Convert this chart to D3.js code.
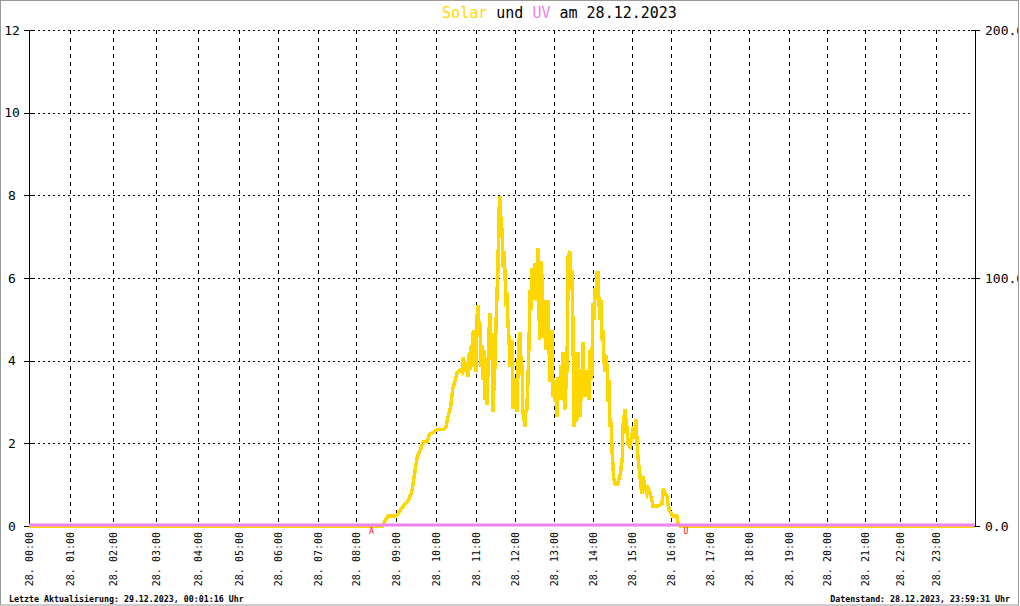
<!DOCTYPE html>
<html><head><meta charset="utf-8">
<script src="https://cdn.jsdelivr.net/npm/d3@7"></script>
<style>
html,body{margin:0;padding:0;background:#fff;}
svg{display:block;}
text{font-family:"DejaVu Sans Mono",monospace;}
</style></head>
<body>
<script>
// ---------- data ----------
const titleParts = [["Solar","#FFD700"],[" und ","#000"],["UV","#EE82EE"],[" am 28.12.2023","#000"]];
const hourLabels = ["28. 00:00","28. 01:00","28. 02:00","28. 03:00","28. 04:00","28. 05:00","28. 06:00","28. 07:00","28. 08:00","28. 09:00","28. 10:00","28. 11:00","28. 12:00","28. 13:00","28. 14:00","28. 15:00","28. 16:00","28. 17:00","28. 18:00","28. 19:00","28. 20:00","28. 21:00","28. 22:00","28. 23:00"];
const leftTicks = [0,2,4,6,8,10,12];
const rightTicks = [0,100,200];
// solar radiation (W/m²) : [minute of day, value]
const solarSeries = [
 [0,0],[520,0],[521,1],[528,4],[539,4],[543,5],[551,8],[558,10],[564,14],[566,18],[569,23],[572,28],[577,31],[581,34],[587,34],[590,37],[597,38],[603,39],[611,39],[615,40],[618,44],[622,48],[625,55],
 [629,59],[632,62],[636,63],[639,62],[641,68],[644,62],[647,66],[648,60],[650,70],[651,63],[653,73],[654,67],[656,79],[657,64],[659,72],[660,62],
 [662,86],[663,89],[665,79],[666,82],[668,64],[669,73],[671,59],[672,71],[674,51],[675,62],[677,49],[678,59],[680,79],[682,86],[683,67],[685,78],[686,46],[688,59],[689,64],[691,83],[692,91],[694,106],[695,126],[697,133],[698,125],[700,119],[702,104],[703,111],[705,99],[706,91],[708,92],[709,82],[711,75],[712,64],[714,73],[715,75],[717,47],[718,59],[720,59],
 [722,51],[723,46],[725,67],[726,75],[728,78],[729,67],[731,64],[732,46],[734,43],[735,40],[737,47],[738,46],[740,59],[742,79],[743,95],[745,87],[746,104],[748,91],[749,103],[751,106],[752,91],[754,92],[755,112],[757,86],[758,75],[760,107],[762,98],[763,76],[765,87],[766,91],[768,71],[769,87],[771,91],[772,75],[774,58],[775,71],[777,79],[778,52],[780,59],
 [782,50],[783,55],[785,44],[786,60],[788,51],[789,55],[791,65],[792,51],[794,70],[795,53],[797,47],[798,55],[800,63],[802,110],[803,107],[805,111],[806,95],[808,103],[809,82],[811,40],[812,70],[814,51],[815,42],[817,70],[818,51],[820,44],[822,55],[823,60],[825,74],[826,55],[828,52],[829,63],[831,55],[832,63],[834,51],[835,71],[837,67],[838,59],[840,90],
 [842,83],[843,96],[845,91],[846,102],[848,102],[849,91],[851,83],[852,91],[854,75],[855,79],[857,67],[858,62],[860,69],[862,63],[863,50],[865,59],[866,40],[868,42],[869,32],[871,23],[872,19],[874,17],[878,17],[882,21],[885,27],[886,40],[889,47],[892,40],[894,33],[897,32],[900,37],
 [902,40],[905,35],[906,43],[908,33],[909,28],[912,21],[915,13],[917,20],[920,16],[923,13],[925,15],[928,13],[931,10],[932,8],[940,8],[946,9],[948,15],[951,13],[954,12],[955,9],[958,6],[963,4],[969,4],[971,1],[974,0],[1439,0]
];
// UV index : [minute of day, value]
const uvSeries = [[0,0],[1439,0]];
const sunEvents = [["A",503],["U",983]]; // sunrise / sunset minute
const footerLeft = "Letzte Aktualisierung: 29.12.2023, 00:01:16 Uhr";
const footerRight = "Datenstand: 28.12.2023, 23:59:31 Uhr";

// ---------- layout ----------
const W = 1019, H = 606;
const plotTop = 30, plotBottom = 526, plotLeft = 29, plotRight = 975;
// pixel stops of each hour (the source plots by sample index, so hours are uneven)
const hourPx = [29,70,113,156,198,239,278,318,356,396,436,476,515,554,593,632,671,710,749,789,827,865,900,936,975];

const svg = d3.select("body").append("svg").attr("width",W).attr("height",H);
svg.append("rect").attr("width",W).attr("height",H).attr("fill","#fff");

const x = d3.scaleLinear().domain(d3.range(25).map(h=>h*60)).range(hourPx);
const yL = d3.scaleLinear().domain([0,12]).range([plotBottom,plotTop]);
const yR = d3.scaleLinear().domain([0,200]).range([plotBottom,plotTop]);

// horizontal grid
svg.append("g").selectAll("line").data(leftTicks.filter(d=>d>0)).join("line")
  .attr("x1",plotLeft+4).attr("x2",plotRight-4)
  .attr("y1",d=>Math.round(yL(d))+0.5).attr("y2",d=>Math.round(yL(d))+0.5)
  .attr("stroke","#000").attr("stroke-dasharray","2,3");
// vertical grid
svg.append("g").selectAll("line").data(d3.range(1,24)).join("line")
  .attr("x1",d=>Math.round(x(d*60))+0.5).attr("x2",d=>Math.round(x(d*60))+0.5)
  .attr("y1",plotTop).attr("y2",plotBottom)
  .attr("stroke","#000").attr("stroke-dasharray","4,4");

// left axis
const gl = svg.append("g");
gl.append("line").attr("x1",plotLeft+0.5).attr("x2",plotLeft+0.5).attr("y1",plotTop).attr("y2",plotBottom).attr("stroke","#000");
gl.selectAll(".t").data(leftTicks).join("line")
  .attr("x1",plotLeft-5).attr("x2",plotLeft+4)
  .attr("y1",d=>Math.round(yL(d))+0.5).attr("y2",d=>Math.round(yL(d))+0.5).attr("stroke","#000");
gl.selectAll("text").data(leftTicks).join("text")
  .attr("x",12).attr("y",d=>yL(d)+4.5).attr("text-anchor","middle")
  .attr("font-size","13px").attr("fill","#000").text(d=>d);

// right axis
const gr = svg.append("g");
gr.append("line").attr("x1",plotRight+0.5).attr("x2",plotRight+0.5).attr("y1",plotTop).attr("y2",plotBottom).attr("stroke","#000");
gr.selectAll(".t").data(rightTicks).join("line")
  .attr("x1",plotRight-4).attr("x2",plotRight+5)
  .attr("y1",d=>Math.round(yR(d))+0.5).attr("y2",d=>Math.round(yR(d))+0.5).attr("stroke","#000");
gr.selectAll("text").data(rightTicks).join("text")
  .attr("x",plotRight+10).attr("y",d=>yR(d)+4.5)
  .attr("font-size","13px").attr("fill","#000").text(d=>d.toFixed(1));

// x labels
svg.append("g").selectAll("text").data(hourLabels).join("text")
  .attr("transform",(d,i)=>`translate(${x(i*60)+4},532) rotate(-90)`)
  .attr("text-anchor","end").attr("font-size","10px").attr("fill","#000").text(d=>d);

// solar line
svg.append("path").datum(solarSeries)
  .attr("d",d3.line().x(d=>x(d[0])).y(d=>yR(d[1])))
  .attr("fill","none").attr("stroke","#FFD700").attr("stroke-width",3.5)
  .attr("shape-rendering","crispEdges");
// UV line
svg.append("path").datum(uvSeries)
  .attr("d",d3.line().x(d=>x(d[0])).y(d=>yL(d[1])-1))
  .attr("fill","none").attr("stroke","#EE82EE").attr("stroke-width",3);

// sunrise/sunset markers
svg.append("g").selectAll("text").data(sunEvents).join("text")
  .attr("x",d=>x(d[1])).attr("y",534).attr("text-anchor","middle")
  .attr("font-size","8px").attr("fill","#f00").text(d=>d[0]);

// title
const t = svg.append("text").attr("x",W/2+50).attr("y",18).attr("text-anchor","middle").attr("font-size","15px");
t.selectAll("tspan").data(titleParts).join("tspan").attr("fill",d=>d[1]).attr("xml:space","preserve").text(d=>d[0]);

// footer
svg.append("text").attr("x",9).attr("y",602).attr("font-size","8.3px").attr("font-weight","bold").attr("fill","#000").text(footerLeft);
svg.append("text").attr("x",1010).attr("y",602).attr("text-anchor","end").attr("font-size","8.3px").attr("font-weight","bold").attr("fill","#000").text(footerRight);

// border
svg.append("rect").attr("x",0.5).attr("y",0.5).attr("width",W-1).attr("height",H-1.5)
  .attr("fill","none").attr("stroke","#999");
</script>
</body></html>
